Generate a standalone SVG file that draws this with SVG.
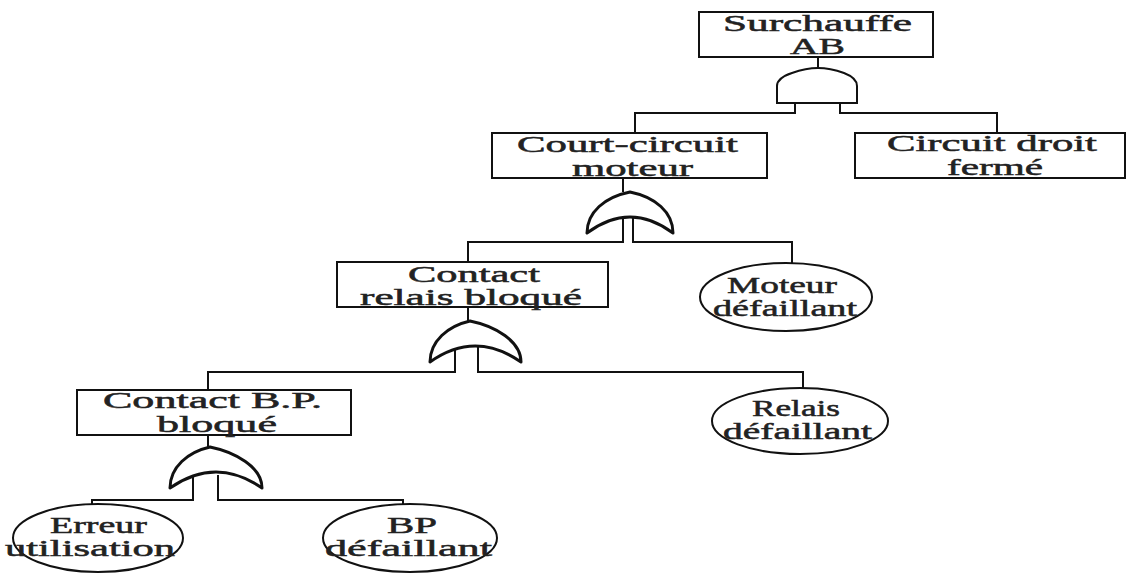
<svg xmlns="http://www.w3.org/2000/svg" width="1128" height="573" viewBox="0 0 1128 573">
<style>
.box{fill:#fff;stroke:#111;stroke-width:2}
.ell{fill:#fff;stroke:#111;stroke-width:2}
.ln{fill:none;stroke:#111;stroke-width:2}
.or{fill:#fff;stroke:#111;stroke-width:3;stroke-linejoin:round}
.and{fill:#fff;stroke:#111;stroke-width:2}
text{font-family:"Liberation Serif","Times New Roman",serif;font-size:23px;fill:#222;stroke:#222;stroke-width:0.5}
</style>
<rect width="1128" height="573" fill="#fff"/>
<g id="connectors">
<path class="ln" d="M818,57 V70"/>
<path class="ln" d="M795,103 V113 H635 V133"/>
<path class="ln" d="M840,103 V113 H997 V133"/>
<path class="ln" d="M623,178 V192"/>
<path class="ln" d="M623,217 V242 H468 V262"/>
<path class="ln" d="M633,217 V242 H792 V263"/>
<path class="ln" d="M468,307 V322"/>
<path class="ln" d="M455,347 V372 H208 V390"/>
<path class="ln" d="M478,347 V372 H803 V388"/>
<path class="ln" d="M208,435 V448"/>
<path class="ln" d="M193,475 V500 H92 V504"/>
<path class="ln" d="M218,475 V500 H403 V504"/>
</g>
<g id="gate-and">
<path class="and" d="M777,103 L777,86 Q777,78 792,73 Q806,68 818,68 Q830,68 844,73 Q857,78 857,86 L857,103 Z"/>
</g>
<g id="gate-or1">
<path class="or" d="M587,233 C587,212 605,197 630,192 C655,197 673,212 673,233 Q630,201 587,233 Z"/>
</g>
<g id="gate-or2">
<path class="or" d="M430,362 C430,341 448,326 470,321 C495,326 521,341 521,362 Q475,330 430,362 Z"/>
</g>
<g id="gate-or3">
<path class="or" d="M170,488 C170,467 188,452 210,447 C235,452 262,467 262,488 Q216,456 170,488 Z"/>
</g>
<g id="n-surchauffe">
<rect class="box" x="699" y="12" width="234" height="45"/>
<text x="723" y="31" textLength="189" lengthAdjust="spacingAndGlyphs">Surchauffe</text>
<text x="790" y="54" textLength="55" lengthAdjust="spacingAndGlyphs">AB</text>
</g>
<g id="n-court-circuit">
<rect class="box" x="492" y="133" width="275" height="45"/>
<text x="517" y="152" textLength="221" lengthAdjust="spacingAndGlyphs">Court-circuit</text>
<text x="572" y="176" textLength="121" lengthAdjust="spacingAndGlyphs">moteur</text>
</g>
<g id="n-circuit-droit">
<rect class="box" x="855" y="133" width="270" height="45"/>
<text x="887" y="151" textLength="210" lengthAdjust="spacingAndGlyphs">Circuit droit</text>
<text x="947" y="175" textLength="96" lengthAdjust="spacingAndGlyphs">fermé</text>
</g>
<g id="n-contact-relais">
<rect class="box" x="337" y="262" width="271" height="45"/>
<text x="408" y="282" textLength="132" lengthAdjust="spacingAndGlyphs">Contact</text>
<text x="360" y="305" textLength="222" lengthAdjust="spacingAndGlyphs">relais bloqué</text>
</g>
<g id="n-moteur">
<ellipse class="ell" cx="786" cy="297" rx="86" ry="34"/>
<text x="727" y="293" textLength="110" lengthAdjust="spacingAndGlyphs">Moteur</text>
<text x="713" y="316" textLength="144" lengthAdjust="spacingAndGlyphs">défaillant</text>
</g>
<g id="n-contact-bp">
<rect class="box" x="77" y="390" width="274" height="45"/>
<text x="103" y="408" textLength="219" lengthAdjust="spacingAndGlyphs">Contact B.P.</text>
<text x="157" y="432" textLength="120" lengthAdjust="spacingAndGlyphs">bloqué</text>
</g>
<g id="n-relais">
<ellipse class="ell" cx="800" cy="421" rx="88" ry="33"/>
<text x="752" y="416" textLength="88" lengthAdjust="spacingAndGlyphs">Relais</text>
<text x="723" y="439" textLength="149" lengthAdjust="spacingAndGlyphs">défaillant</text>
</g>
<g id="n-erreur">
<ellipse class="ell" cx="98" cy="538" rx="85" ry="34"/>
<text x="50" y="533" textLength="97" lengthAdjust="spacingAndGlyphs">Erreur</text>
<text x="5" y="556" textLength="170" lengthAdjust="spacingAndGlyphs">utilisation</text>
</g>
<g id="n-bp">
<ellipse class="ell" cx="410" cy="538" rx="87" ry="34"/>
<text x="387" y="533" textLength="50" lengthAdjust="spacingAndGlyphs">BP</text>
<text x="325" y="556" textLength="167" lengthAdjust="spacingAndGlyphs">défaillant</text>
</g>
</svg>
